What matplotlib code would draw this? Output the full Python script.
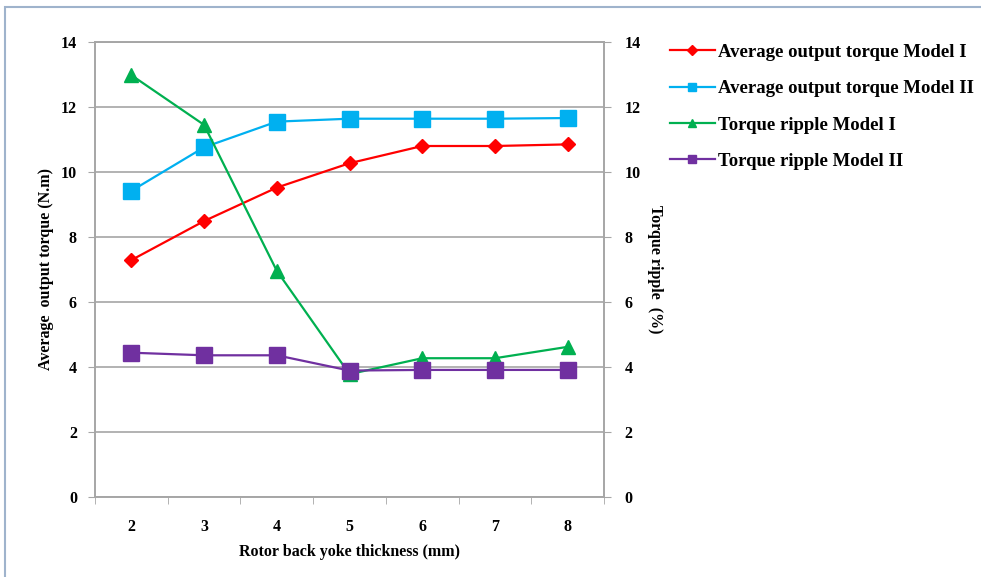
import matplotlib
matplotlib.use("Agg")
import matplotlib.pyplot as plt
from matplotlib.patches import Rectangle
from matplotlib.lines import Line2D

thickness = [2, 3, 4, 5, 6, 7, 8]
avg_torque_m1 = [7.29, 8.49, 9.52, 10.27, 10.80, 10.80, 10.85]
avg_torque_m2 = [9.42, 10.76, 11.55, 11.64, 11.64, 11.64, 11.66]
ripple_m1 = [12.98, 11.45, 6.96, 3.78, 4.27, 4.27, 4.62]
ripple_m2 = [4.44, 4.36, 4.36, 3.89, 3.91, 3.91, 3.91]
y_ticks = [0, 2, 4, 6, 8, 10, 12, 14]

plt.rcParams['font.family'] = ['Liberation Serif', 'DejaVu Serif']
plt.rcParams['font.weight'] = 'bold'

fig = plt.figure(figsize=(9.81, 5.77), dpi=100)
fig.patches.append(Rectangle((5/981, -0.01), 1.0, 1 - 7/577 + 0.01, transform=fig.transFigure,
                             fill=False, edgecolor='#9fb3cc', linewidth=1.5))

ax = fig.add_axes([95/981, 80/577, 509/981, 455/577])
ax2 = ax.twinx()

grid_c = '#a6a6a6'
ax.set_xlim(1.5, 8.5)
ax.set_ylim(0, 14)
ax2.set_ylim(0, 14)
ax.set_yticks(y_ticks)
ax2.set_yticks(y_ticks)
ax.yaxis.grid(True, color=grid_c, linewidth=1.2)
ax.set_axisbelow(True)
ax.set_xticks(thickness)
ax.set_xticks([1.5 + i for i in range(8)], minor=True)
ax.tick_params(axis='x', which='major', length=0, pad=16, labelsize=11.5)
ax.tick_params(axis='x', which='minor', length=5, color=grid_c, direction='out')
ax.tick_params(axis='y', length=5, color=grid_c, labelsize=11.5, pad=8)
ax2.tick_params(axis='y', length=5, color=grid_c, labelsize=11.5, pad=10)
for a in (ax, ax2):
    for s in a.spines.values():
        s.set_color(grid_c)
        s.set_linewidth(1.2)
    for lab in a.get_yticklabels() + a.get_xticklabels():
        lab.set_fontweight('bold')

l1, = ax.plot(thickness, avg_torque_m1, color='#ff0000', marker='D', markersize=7, linewidth=1.6,
              label='Average output torque Model I')
l2, = ax.plot(thickness, avg_torque_m2, color='#00b0f0', marker='s', markersize=11, linewidth=1.6,
              label='Average output torque Model II')
l3, = ax2.plot(thickness, ripple_m1, color='#00b050', marker='^', markersize=10, linewidth=1.6,
               label='Torque ripple Model I')
l4, = ax2.plot(thickness, ripple_m2, color='#7030a0', marker='s', markersize=11, linewidth=1.6,
               label='Torque ripple Model II')

ax.set_xlabel('Rotor back yoke thickness (mm)', fontsize=11.5, fontweight='bold', labelpad=6)
ax.set_ylabel('Average  output torque (N.m)', fontsize=11.5, fontweight='bold', labelpad=5)
ax2.set_ylabel('Torque ripple  (%)', fontsize=11.5, fontweight='bold', rotation=-90, labelpad=16)

handles = [
    Line2D([], [], color='#ff0000', marker='D', markersize=5, linewidth=1.6),
    Line2D([], [], color='#00b0f0', marker='s', markersize=6, linewidth=1.6),
    Line2D([], [], color='#00b050', marker='^', markersize=6, linewidth=1.6),
    Line2D([], [], color='#7030a0', marker='s', markersize=6, linewidth=1.6),
]
labels = [l1.get_label(), l2.get_label(), l3.get_label(), l4.get_label()]
fig.legend(handles, labels, loc='upper left', bbox_to_anchor=(662/981, 1 - 36/577),
           frameon=False, prop={'family': 'Liberation Serif', 'weight': 'bold', 'size': 13.5},
           handlelength=2.4, handletextpad=0.2, labelspacing=1.03, borderaxespad=0)

fig.savefig('out.png', dpi=100)
